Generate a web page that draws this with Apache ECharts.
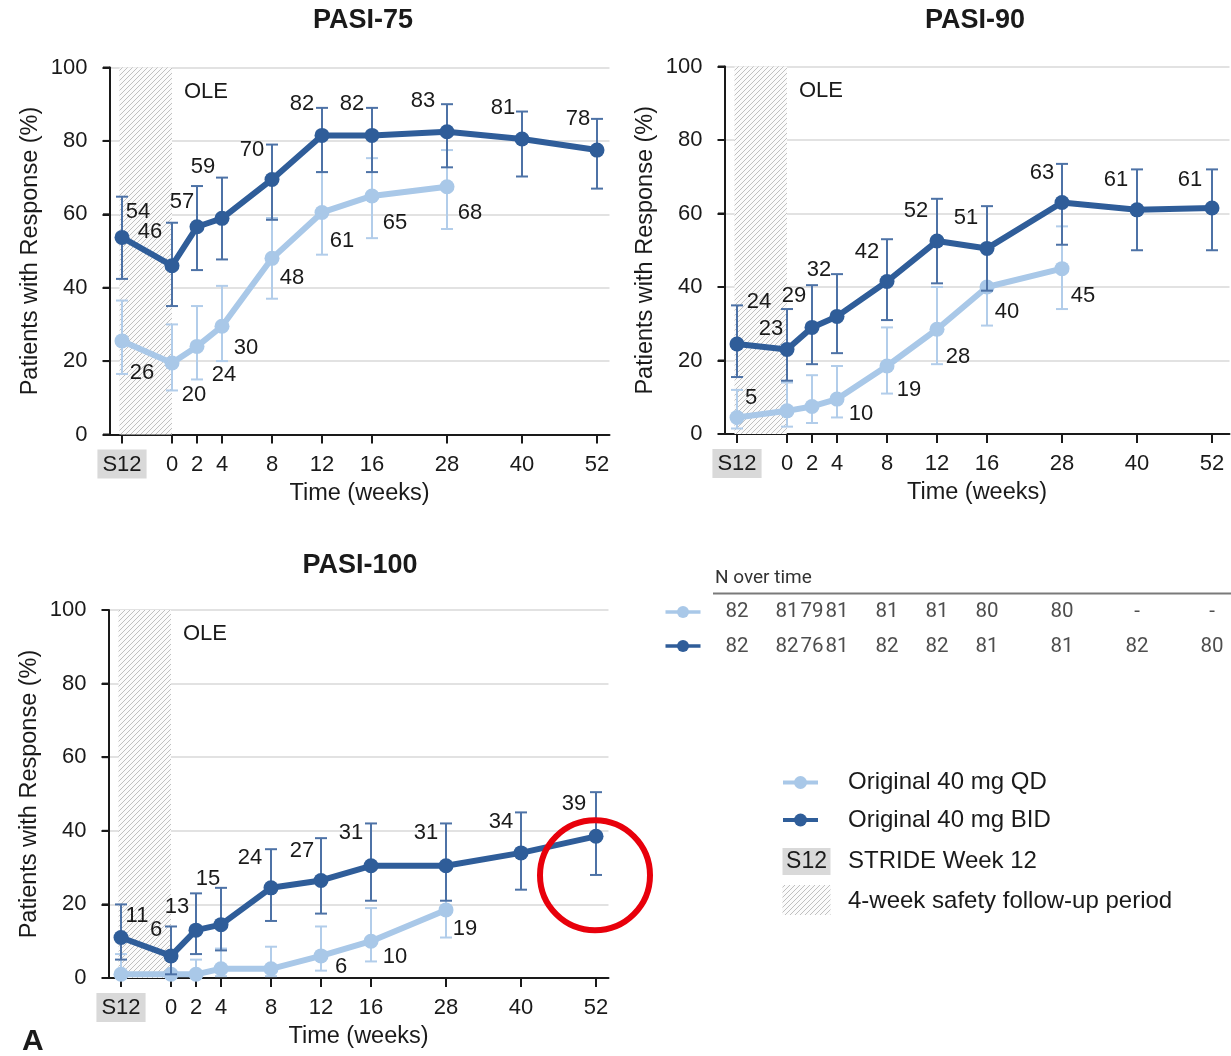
<!DOCTYPE html>
<html><head><meta charset="utf-8">
<script src="https://cdn.jsdelivr.net/npm/echarts@6/dist/echarts.min.js"></script>
<style>html,body{margin:0;padding:0;background:#fff}#c{width:1231px;height:1056px}</style>
</head><body><div id="c"></div>
<script>
// ---------- DATA ----------
const weekLabels = ['S12','0','2','4','8','12','16','28','40','52'];
const weekPositions = [6,10,12,14,18,22,26,32,38,44]; // non-linear time scale used by the original axis
const yTicks = [0,20,40,60,80,100];

const pasi75Bid   = [53.7, 46, 56.6, 58.9, 69.5, 81.5, 81.5, 82.5, 80.5, 77.5];
const pasi75BidHi = [64.8, 57.7, 67.7, 70, 79, 89, 89, 90, 88, 86];
const pasi75BidLo = [42.4, 35, 44.8, 47.7, 58.5, 71.5, 71.5, 72.8, 70.3, 67];
const pasi75BidLbl = ['54','46','57','59','70','82','82','83','81','78'];
const pasi75Qd    = [25.5, 19.5, 24, 29.5, 48, 60.5, 65, 67.5];
const pasi75QdHi  = [36.5, 30, 35, 40.5, 59, 71.5, 75.3, 77.5];
const pasi75QdLo  = [16.5, 12, 15, 20, 37, 49, 53.5, 56];
const pasi75QdLbl = ['26','20','24','30','48','61','65','68'];

const pasi90Bid   = [24.5, 23, 29, 32, 41.5, 52.5, 50.5, 63, 61, 61.5];
const pasi90BidHi = [35, 34, 40.5, 43.5, 53, 64, 62, 73.5, 72, 72];
const pasi90BidLo = [15.5, 14.5, 19, 22, 31, 41, 39, 51.5, 50, 50];
const pasi90BidLbl = ['24','23','29','32','42','52','51','63','61','61'];
const pasi90Qd    = [4.5, 6.3, 7.5, 9.5, 18.5, 28.5, 40, 45];
const pasi90QdHi  = [12, 14, 16, 18.5, 29, 40, 51, 56.5];
const pasi90QdLo  = [1.5, 2, 3, 4.5, 11, 19, 29.5, 34];
const pasi90QdLbl = ['5', null, null, '10','19','28','40','45'];

const pasi100Bid   = [11, 6, 13, 14.5, 24.5, 26.5, 30.5, 30.5, 34, 38.5];
const pasi100BidHi = [20, 14, 23, 24.5, 35, 38, 42, 42, 45, 50.5];
const pasi100BidLo = [5, 1, 6.5, 7.5, 15.5, 17.5, 21, 21, 24, 28];
const pasi100BidLbl = ['11','6','13','15','24','27','31','31','34','39'];
const pasi100Qd    = [1, 1, 1, 2.5, 2.5, 6, 10, 18.5];
const pasi100QdHi  = [6.5, 5, 5, 8, 8.5, 14, 19, 29.5];
const pasi100QdLo  = [0, 0, 0, 0.5, 0.5, 2, 4.5, 11];
const pasi100QdLbl = [null, null, null, null, null, '6','10','19'];

const nQd  = ['82','81','79','81','81','81','80','80','-','-'];
const nBid = ['82','82','76','81','82','82','81','81','82','80'];

const panelTitles = ['PASI-75','PASI-90','PASI-100'];
const seriesNames = ['Original 40 mg QD','Original 40 mg BID'];

// ---------- STYLE (label nudges in px, kept apart from data) ----------
const nudge75Bid = [[16,-25],[-22,-34],[-15,-25],[-19,-51],[-20,-29],[-20,-31],[-20,-31],[-24,-31],[-19,-31],[-19,-31]];
const nudge75Qd  = [[20,32],[22,32],[27,29],[24,22],[20,20],[20,28],[23,27],[23,26]];
const nudge90Bid = [[22,-42],[-16,-21],[-18,-31],[-18,-46],[-20,-30],[-21,-30],[-21,-30],[-20,-30],[-21,-30],[-22,-28]];
const nudge90Qd  = [[14,-20],[0,0],[0,0],[24,15],[22,24],[21,28],[20,25],[21,27]];
const nudge100Bid = [[16,-22],[-15,-26],[-19,-23],[-13,-46],[-21,-30],[-19,-30],[-20,-33],[-20,-33],[-20,-31],[-22,-32]];
const nudge100Qd  = [[0,0],[0,0],[0,0],[0,0],[0,0],[20,11],[24,16],[19,19]];

const DARK = '#2f5d99', LIGHT = '#a9c8e8', DARK_ERR = '#4d72a6', LIGHT_ERR = '#b2cdea';
const FONT = '"Liberation Sans", Arial, sans-serif';
const INK = '#1a1a1a';
const X_MIN = 5, X_MAX = 45, X_MAX_90 = 45.4;
const SAFETY_START = 5.8; // start of the 4-week safety follow-up band on the time scale

// hatch pattern
const pc = document.createElement('canvas');
pc.width = 5; pc.height = 5;
const g = pc.getContext('2d');
g.fillStyle = '#fbfbfb'; g.fillRect(0,0,5,5);
g.strokeStyle = '#b9b9b9'; g.lineWidth = 0.9;
g.beginPath();
g.moveTo(-1,6); g.lineTo(6,-1);
g.moveTo(-1,1); g.lineTo(1,-1);
g.moveTo(4,6); g.lineTo(6,4);
g.stroke();
const hatch = { image: pc, repeat: 'repeat' };

const chart = echarts.init(document.getElementById('c'), null, {renderer:'canvas'});

const grids = [
  {left:109.5, top:67.5, width:500, height:367},
  {left:724.5, top:66.5, width:505, height:367.5},
  {left:108.5, top:610, width:500, height:368},
  {left:724.5, top:594, width:505, height:70}
].map(gr => Object.assign({outerBoundsMode:'none', containLabel:false}, gr));

function xAxis(gi, max) {
  return {
    type:'value', gridIndex:gi, min:X_MIN, max:max,
    axisLine:{show:true, onZero:false, lineStyle:{color:INK, width:2}},
    axisTick:{show:true, customValues:weekPositions, length:9, lineStyle:{color:INK, width:2}},
    axisLabel:{show:true, customValues:weekPositions, margin:18.5,
      formatter: v => { const i = weekPositions.indexOf(v); if (i < 0) return ''; return (i===0?'{s|':'{n|') + weekLabels[i] + '}'; },
      rich:{
        s:{backgroundColor:'#d9d9d9', padding:[4,5,3,5], fontSize:22, color:INK, fontFamily:FONT, lineHeight:22},
        n:{padding:[4,5,3,5], fontSize:22, color:INK, fontFamily:FONT, lineHeight:22}
      }},
    splitLine:{show:false},
    name:'Time (weeks)', nameLocation:'middle', nameGap:47,
    nameTextStyle:{fontSize:23.5, color:INK, fontFamily:FONT}
  };
}
function yAxis(gi) {
  return {
    type:'value', gridIndex:gi, min:0, max:100, interval:20, position:'left',
    axisLine:{show:true, onZero:false, lineStyle:{color:INK, width:2}},
    axisTick:{show:true, length:7, lineStyle:{color:INK, width:2}},
    axisLabel:{fontSize:22, color:INK, fontFamily:FONT, margin:22},
    splitLine:{show:true, lineStyle:{color:'#d9d9d9', width:1.5}},
    name:'Patients with Response (%)', nameLocation:'middle', nameGap:67,
    nameTextStyle:{fontSize:23.5, color:INK, fontFamily:FONT}
  };
}

function lineSeries(gi, name, vals, lbls, nudges, color, z) {
  return {
    type:'line', name, xAxisIndex:gi, yAxisIndex:gi, z,
    symbol:'circle', symbolSize:15, showSymbol:true,
    lineStyle:{width:6, color}, itemStyle:{color},
    label:{show:false, position:'inside', color:INK, fontSize:22, fontFamily:FONT, align:'center', verticalAlign:'middle'},
    emphasis:{disabled:true}, silent:true, animation:false,
    data: vals.map((v,i) => ({
      value:[weekPositions[i], v],
      label: lbls[i] ? {show:true, formatter:lbls[i], offset:nudges[i]} : {show:false}
    }))
  };
}
function errSeries(gi, lo, hi, color, z) {
  return {
    type:'custom', xAxisIndex:gi, yAxisIndex:gi, z, silent:true, animation:false,
    data: lo.map((l,i) => [weekPositions[i], l, hi[i]]),
    encode:{x:0, y:[1,2]},
    renderItem:(params, api) => {
      const x = api.value(0);
      const a = api.coord([x, api.value(1)]);
      const b = api.coord([x, api.value(2)]);
      const w = 6;
      const st = {stroke:color, lineWidth:2};
      return {type:'group', children:[
        {type:'line', shape:{x1:a[0], y1:a[1], x2:b[0], y2:b[1]}, style:st},
        {type:'line', shape:{x1:a[0]-w, y1:a[1], x2:a[0]+w, y2:a[1]}, style:st},
        {type:'line', shape:{x1:b[0]-w, y1:b[1], x2:b[0]+w, y2:b[1]}, style:st}
      ]};
    }
  };
}
function hatchSeries(gi) {
  return {
    type:'line', xAxisIndex:gi, yAxisIndex:gi, z:1, data:[], silent:true, animation:false,
    markArea:{silent:true, itemStyle:{color:hatch, borderWidth:0},
      label:{show:true, formatter:'OLE', position:['100%','0%'], offset:[12,13], align:'left', verticalAlign:'top',
        fontSize:22, color:INK, fontFamily:FONT},
      data:[[{coord:[SAFETY_START, 0]}, {coord:[weekPositions[1], 100]}]]}
  };
}
function tableSeries(vals, row) {
  return {
    type:'scatter', xAxisIndex:3, yAxisIndex:3, symbolSize:0, silent:true, animation:false,
    data: vals.map((v,i) => [weekPositions[i], row, v]),
    label:{show:true, position:'inside', formatter:p => p.value[2], fontSize:20.5, color:'#222',
      fontFamily:'Roboto, "Liberation Sans", sans-serif', align:'center', verticalAlign:'middle'}
  };
}

const panels = [
  [pasi75Qd, pasi75QdLo, pasi75QdHi, pasi75QdLbl, nudge75Qd, pasi75Bid, pasi75BidLo, pasi75BidHi, pasi75BidLbl, nudge75Bid],
  [pasi90Qd, pasi90QdLo, pasi90QdHi, pasi90QdLbl, nudge90Qd, pasi90Bid, pasi90BidLo, pasi90BidHi, pasi90BidLbl, nudge90Bid],
  [pasi100Qd, pasi100QdLo, pasi100QdHi, pasi100QdLbl, nudge100Qd, pasi100Bid, pasi100BidLo, pasi100BidHi, pasi100BidLbl, nudge100Bid]
];
const series = [];
panels.forEach((p, gi) => {
  series.push(hatchSeries(gi));
  series.push(errSeries(gi, p[1], p[2], LIGHT_ERR, 2));
  series.push(lineSeries(gi, seriesNames[0], p[0], p[3], p[4], LIGHT, 3));
  series.push(errSeries(gi, p[6], p[7], DARK_ERR, 4));
  series.push(lineSeries(gi, seriesNames[1], p[5], p[8], p[9], DARK, 5));
});
series.push(tableSeries(nQd, 0.5));
series.push(tableSeries(nBid, 1.5));

const titleCenters = [[363,21],[975,21],[360,566]];
const graphics = panelTitles.map((t,i) => ({
  type:'text', x:titleCenters[i][0], y:titleCenters[i][1],
  style:{text:t, font:'bold 27px ' + FONT, fill:INK, textAlign:'center', textVerticalAlign:'middle'}
}));

function legSym(cx, cy, half, lw, r, color) {
  return [
    {type:'line', shape:{x1:cx-half, y1:cy, x2:cx+half, y2:cy}, style:{stroke:color, lineWidth:lw}},
    {type:'circle', shape:{cx, cy, r}, style:{fill:color}}
  ];
}
// table header + row symbols
graphics.push({type:'text', x:715, y:578, style:{text:'N over time', font:'19px Roboto, "Liberation Sans", sans-serif', fill:'#333', textVerticalAlign:'middle'}});
graphics.push({type:'line', shape:{x1:713, y1:593.5, x2:1231, y2:593.5}, style:{stroke:'#7a7a7a', lineWidth:2}});
graphics.push(...legSym(683, 612, 17.5, 3.5, 6, LIGHT));
graphics.push(...legSym(683, 646, 17.5, 3.5, 6, DARK));
// legend
graphics.push(...legSym(800.5, 782.5, 17.5, 4, 6.5, LIGHT));
graphics.push({type:'text', x:848, y:782, style:{text:seriesNames[0], font:'24px ' + FONT, fill:INK, textVerticalAlign:'middle'}});
graphics.push(...legSym(800.5, 820, 17.5, 4, 6.5, DARK));
graphics.push({type:'text', x:848, y:820, style:{text:seriesNames[1], font:'24px ' + FONT, fill:INK, textVerticalAlign:'middle'}});
graphics.push({type:'rect', shape:{x:782.5, y:848, width:48, height:27}, style:{fill:'#d9d9d9'}});
graphics.push({type:'text', x:806.5, y:861.5, style:{text:weekLabels[0], font:'23px ' + FONT, fill:INK, textAlign:'center', textVerticalAlign:'middle'}});
graphics.push({type:'text', x:848, y:861.5, style:{text:'STRIDE Week 12', font:'24px ' + FONT, fill:INK, textVerticalAlign:'middle'}});
graphics.push({type:'rect', shape:{x:782.5, y:885, width:48, height:30}, style:{fill:hatch}});
graphics.push({type:'text', x:848, y:901, style:{text:'4-week safety follow-up period', font:'24px ' + FONT, fill:INK, textVerticalAlign:'middle'}});
// panel letter
graphics.push({type:'text', x:22, y:1042, style:{text:'A', font:'bold 30px ' + FONT, fill:INK, textVerticalAlign:'middle'}});

chart.setOption({
  animation:false,
  backgroundColor:'#ffffff',
  grid: grids,
  xAxis: [xAxis(0,X_MAX), xAxis(1,X_MAX_90), xAxis(2,X_MAX), {type:'value', gridIndex:3, min:X_MIN, max:X_MAX_90, show:false}],
  yAxis: [yAxis(0), yAxis(1), yAxis(2), {type:'value', gridIndex:3, min:0, max:2, inverse:true, show:false}],
  series,
  graphic: graphics
});

// vertical axis lines and outward ticks, placed through each grid's scales
[0,1,2].forEach(gi => {
  const bottom = chart.convertToPixel({gridIndex:gi}, [X_MIN, yTicks[0]]);
  const top = chart.convertToPixel({gridIndex:gi}, [X_MIN, yTicks[yTicks.length-1]]);
  const ax = Math.round(bottom[0]);
  graphics.push({type:'line', z:50, shape:{x1:ax, y1:bottom[1]+1, x2:ax, y2:top[1]}, style:{stroke:INK, lineWidth:2}});
  yTicks.forEach(t => {
    const p = chart.convertToPixel({gridIndex:gi}, [X_MIN, t]);
    graphics.push({type:'line', z:50, shape:{x1:ax-7, y1:p[1], x2:ax, y2:p[1]}, style:{stroke:INK, lineWidth:2}});
  });
});

// red highlight ring around the week-52 PASI-100 BID point
const ringAt = chart.convertToPixel({gridIndex:2}, [weekPositions[9], pasi100Bid[9]]);
graphics.push({type:'circle', shape:{cx:ringAt[0]-1, cy:ringAt[1]+39, r:55}, style:{fill:'none', stroke:'#e8000b', lineWidth:6}, z:100});
chart.setOption({graphic: graphics});
</script>
</body></html>
